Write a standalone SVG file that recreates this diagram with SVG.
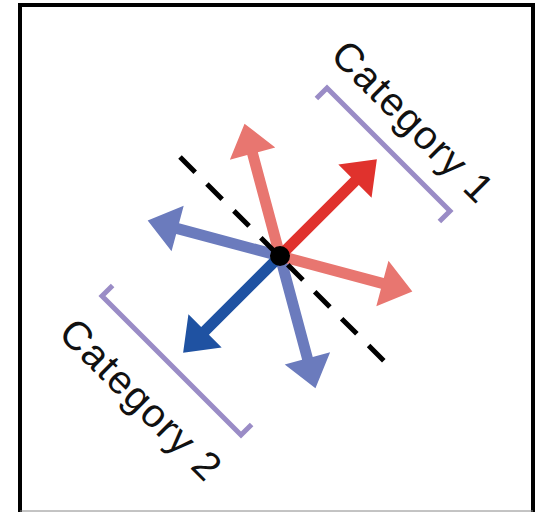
<svg xmlns="http://www.w3.org/2000/svg" xmlns:xlink="http://www.w3.org/1999/xlink" width="536" height="512" viewBox="0 0 536 512">
  <style>
    .frame { fill: none; stroke: #000; stroke-width: 4; }
    .bracket { fill: none; stroke: #9a8cc6; stroke-width: 5; stroke-linejoin: miter; }
    .label { font-family: "Liberation Sans", Arial, sans-serif; font-size: 40px; letter-spacing: 1.5px; fill: #111; }
    .axis { fill: none; stroke: #000; stroke-width: 5; stroke-dasharray: 21.5 16.6; }
  </style>
  <defs>
    <path id="arrowShape" d="M0,-5.5 H106 V-23.5 L137,0 L106,23.5 V5.5 H0 Z"/>
  </defs>
  <rect x="0" y="0" width="536" height="512" fill="#fff"/>
  <path class="frame" d="M20,512 V5 H533 V512"/>
  <line x1="20" y1="511" x2="533" y2="511" stroke="#888" stroke-width="1"/>

  <g id="category1">
    <path class="bracket" d="M316.4,98.6 L327,88 L450,211 L439.4,221.6"/>
    <text class="label" transform="translate(329,57) rotate(45)">Category 1</text>
  </g>
  <g id="category2">
    <path class="bracket" d="M112.6,285.4 L102,296 L241,435 L251.6,424.4"/>
    <text class="label" transform="translate(57,335) rotate(45)">Category 2</text>
  </g>

  <g id="connectors">
    <use href="#arrowShape" fill="#6b7bbd" transform="translate(280,256) rotate(195)"/>
    <use href="#arrowShape" fill="#6b7bbd" transform="translate(280,256) rotate(75)"/>
    <use href="#arrowShape" fill="#1f52a2" transform="translate(280,256) rotate(135)"/>
    <use href="#arrowShape" fill="#e87670" transform="translate(280,256) rotate(15)"/>
    <use href="#arrowShape" fill="#e87670" transform="translate(280,256) rotate(-105)"/>
    <use href="#arrowShape" fill="#e0322d" transform="translate(280,256) rotate(-45)"/>
    <line class="axis" x1="180" y1="157" x2="385" y2="362"/>
  </g>
  <g id="origin">
    <circle cx="280" cy="256" r="10" fill="#000"/>
  </g>
</svg>
